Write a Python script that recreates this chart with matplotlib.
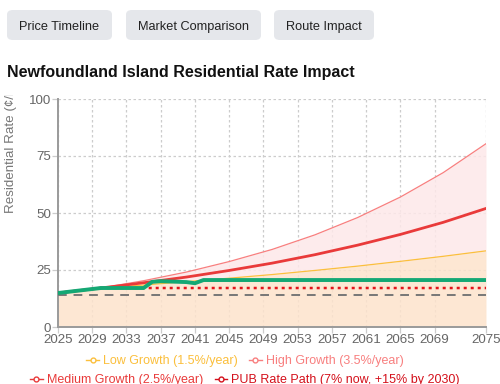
import matplotlib
matplotlib.use("Agg")
import matplotlib.pyplot as plt
from matplotlib.patches import FancyBboxPatch
from matplotlib.lines import Line2D
from matplotlib.transforms import Bbox

plt.rcParams['font.family'] = ['Liberation Sans', 'DejaVu Sans']

# Data (cents/kWh)
years = [2025, 2030, 2035, 2040, 2045, 2050, 2055, 2060, 2065, 2070, 2075]
low_growth = [14.9, 17.1, 18.4, 19.9, 21.4, 23.0, 24.8, 26.7, 28.8, 31.0, 33.4]
medium_growth = [14.9, 17.1, 19.4, 21.9, 24.8, 28.0, 31.7, 35.9, 40.6, 45.9, 52.0]
high_growth = [14.9, 17.1, 20.3, 24.1, 28.7, 34.0, 40.4, 48.0, 57.0, 67.7, 80.4]

pub_years = [2025, 2030, 2075]
pub_path = [14.9, 17.1, 17.1]

route_years = [2025, 2030, 2035, 2036, 2037, 2040, 2041, 2042, 2075]
route_rate = [14.9, 17.1, 17.1, 19.8, 20.1, 19.7, 19.2, 20.6, 20.6]

current_years = [2025, 2075]
current_rate = [13.9, 13.9]

x_ticks = [2025, 2029, 2033, 2037, 2041, 2045, 2049, 2053, 2057, 2061, 2065, 2069, 2075]
y_ticks = [0, 25, 50, 75, 100]
buttons = ["Price Timeline", "Market Comparison", "Route Impact"]

W, H = 500, 384
fig = plt.figure(figsize=(5, 3.84), dpi=100)
ax = fig.add_axes([58 / W, 1 - 327 / H, 428 / W, 228 / H])

# fills
ax.fill_between(years, 0, low_growth, color='#fde3cc', alpha=0.85, lw=0, zorder=1)
ax.fill_between(years, low_growth, high_growth, color='#fde8e9', alpha=0.85, lw=0, zorder=1)

ax.plot(current_years, current_rate, color='#777777', lw=1.4, dashes=(4.5, 3.5), zorder=3)
ax.plot(years, low_growth, color='#fbbf3c', lw=0.9, zorder=4)
ax.plot(years, high_growth, color='#f87f7f', lw=0.9, zorder=4)
ax.plot(years, medium_growth, color='#e93a3a', lw=2.0, zorder=5)
ax.plot(pub_years, pub_path, color='#e4141b', lw=1.8, dashes=(1.2, 1.6), zorder=5)
ax.plot(route_years, route_rate, color='#14a874', lw=2.8, zorder=6, solid_joinstyle='round')

ax.set_xlim(2025, 2075)
ax.set_ylim(0, 100)
ax.set_xticks(x_ticks)
ax.set_yticks(y_ticks)
ax.grid(True, color='#cccccc', lw=0.9, linestyle=(0, (2, 2)), zorder=0)
ax.set_axisbelow(True)
for s in ['top', 'right']:
    ax.spines[s].set_visible(False)
for s in ['left', 'bottom']:
    ax.spines[s].set_color('#9a9a9a')
    ax.spines[s].set_linewidth(1.4)
ax.tick_params(colors='#cccccc', labelcolor='#666666', labelsize=9.6, length=4, width=0.9, pad=1)

# y label, clipped at canvas top like the original
ylab = fig.text(11 / W, 1 - 213 / H, "Residential Rate (¢/kWh)", rotation=90,
                rotation_mode='anchor', ha='left', va='center', fontsize=9.6, color='#777777')
ylab.set_clip_box(Bbox.from_extents(0, 0, 40, H - 95))
ylab.set_clip_on(True)

# title
fig.text(7 / W, 1 - 72 / H, "Newfoundland Island Residential Rate Impact",
         fontsize=11.5, fontweight='bold', ha='left', va='center', color='#111111')

# buttons
bx = [(7, 112), (126, 261), (274, 374)]
for (x0, x1), label in zip(bx, buttons):
    p = FancyBboxPatch((x0 / W, 1 - 40 / H), (x1 - x0) / W, 30 / H,
                       boxstyle="round,pad=0,rounding_size=0.012",
                       transform=fig.transFigure, fc='#e5e7eb', ec='none')
    fig.patches.append(p)
    fig.text((x0 + x1) / 2 / W, 1 - 30 / H, label, ha='center', va='baseline',
             fontsize=9.2, color='#222222')

# legend rows
def handle(c):
    return Line2D([], [], color=c, lw=1, marker='o', ms=3.5, mfc='white', mec=c, mew=1)

row1 = [(handle('#fbbf3c'), "Low Growth (1.5%/year)"),
        (handle('#f87f7f'), "High Growth (3.5%/year)")]
row2 = [(handle('#e93a3a'), "Medium Growth (2.5%/year)"),
        (handle('#d4101b'), "PUB Rate Path (7% now, +15% by 2030)")]
for row, yy in [(row1, 361), (row2, 380)]:
    lg = fig.legend([h for h, _ in row], [t for _, t in row], loc='center',
                    bbox_to_anchor=(0.49, 1 - yy / H), ncol=2, frameon=False,
                    fontsize=9.0, handlelength=1.0, handletextpad=0.35,
                    columnspacing=0.9, labelcolor='linecolor', borderpad=0)

fig.savefig("out.png", dpi=100)
